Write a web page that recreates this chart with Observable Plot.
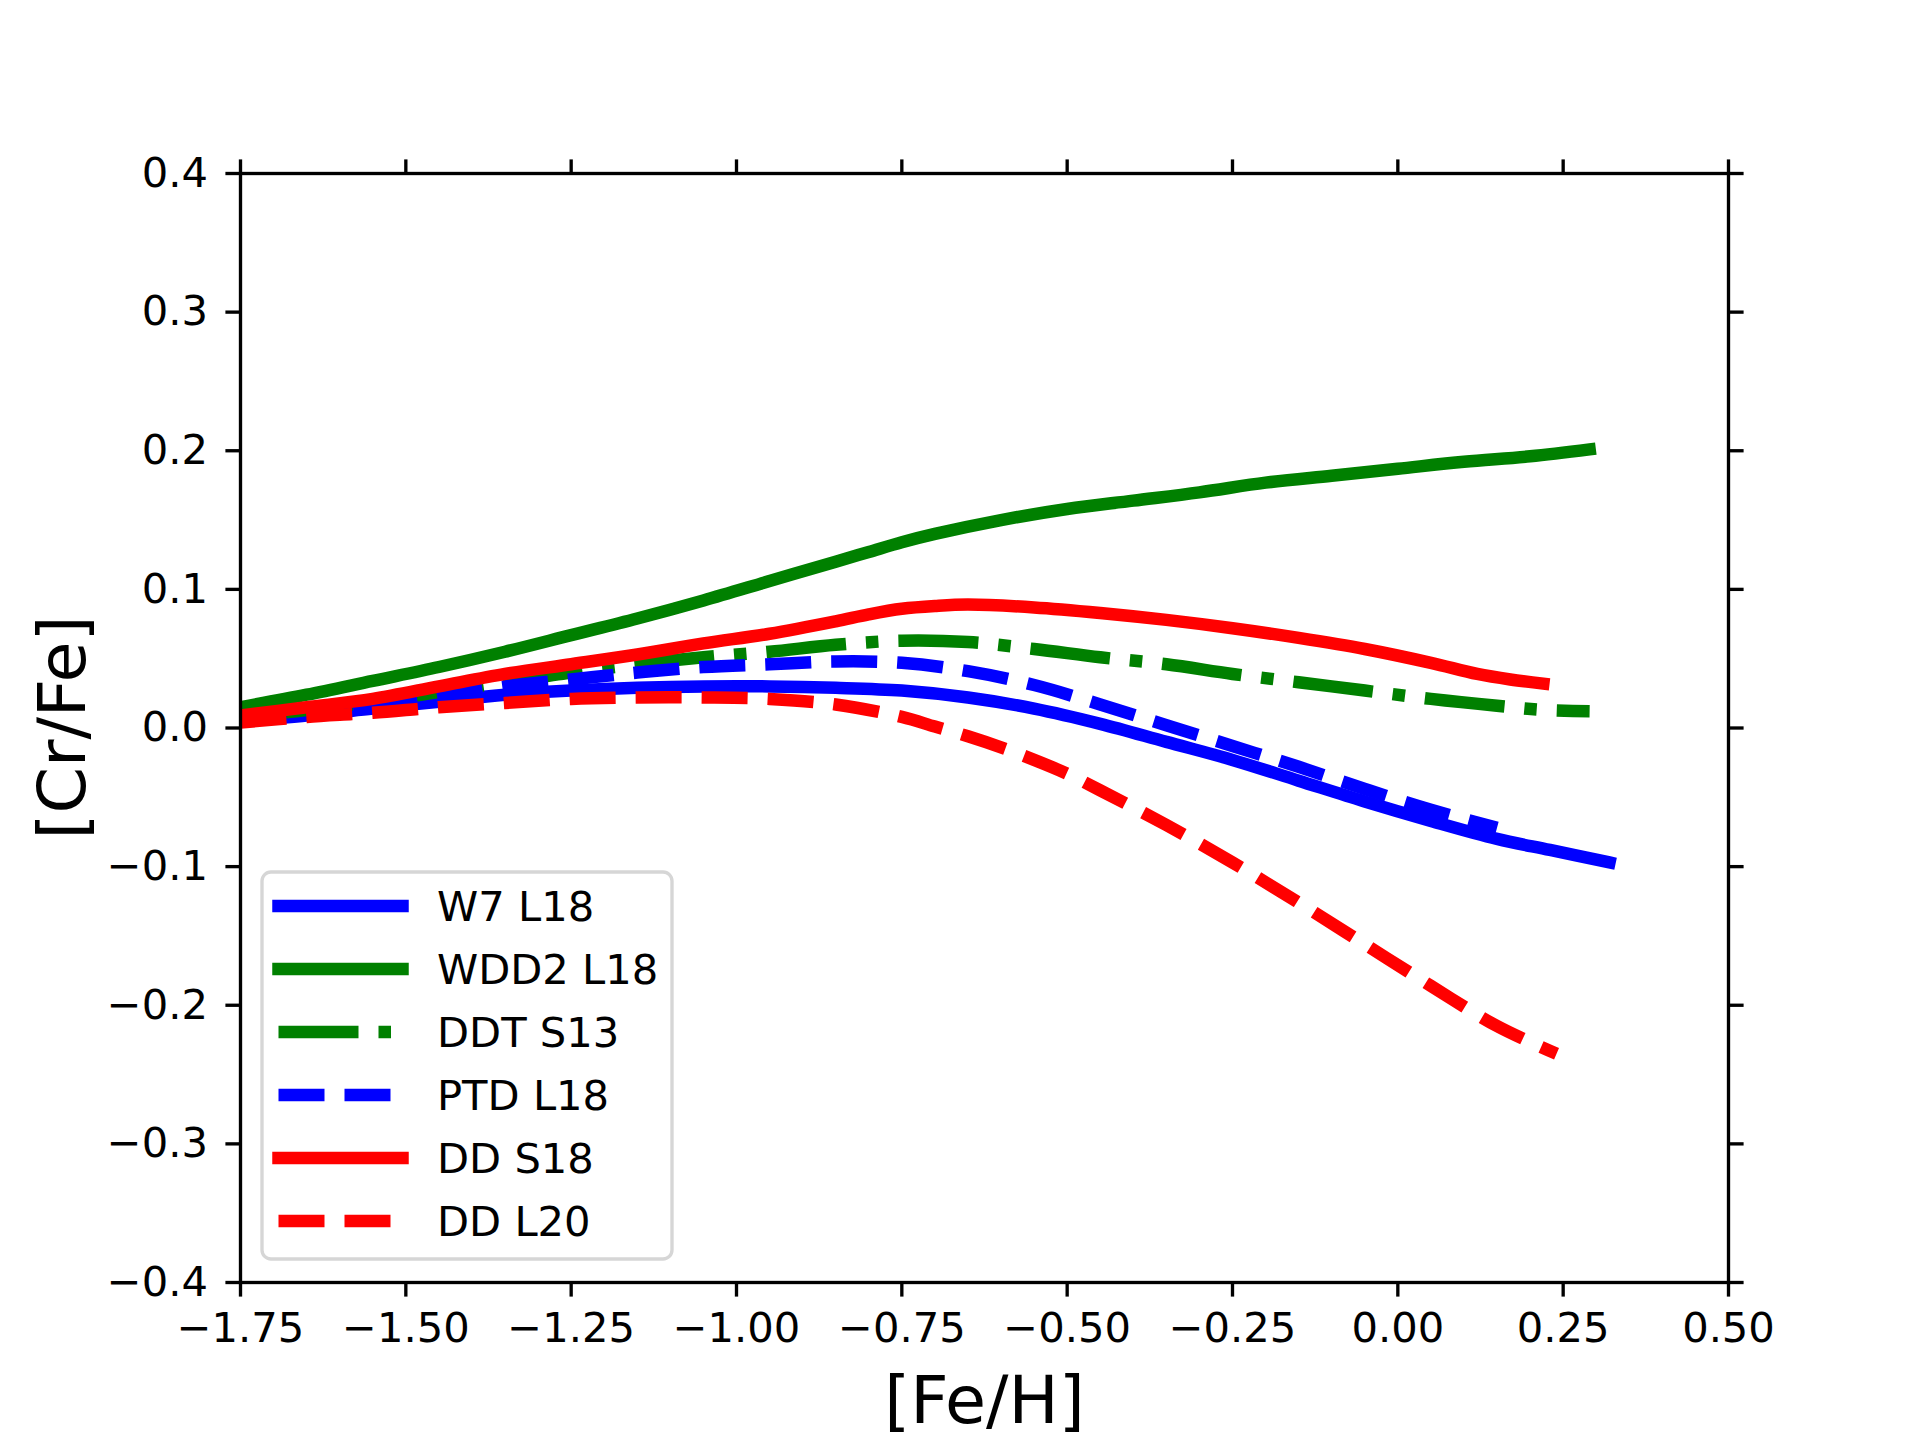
<!DOCTYPE html>
<html><head><meta charset="utf-8">
<script src="https://cdn.jsdelivr.net/npm/d3@7"></script>
<script src="https://cdn.jsdelivr.net/npm/@observablehq/plot@0.6"></script>
<style>html,body{margin:0;padding:0;background:#fff;} #chart{width:1920px;height:1440px;}</style>
</head><body><div id="chart"></div>
<script>
// ---- data ----
const xTicks = [-1.75, -1.5, -1.25, -1.0, -0.75, -0.5, -0.25, 0.0, 0.25, 0.5];
const yTicks = [-0.4, -0.3, -0.2, -0.1, 0.0, 0.1, 0.2, 0.3, 0.4];
const seriesNames = ["W7 L18", "WDD2 L18", "DDT S13", "PTD L18", "DD S18", "DD L20"];

const w7L18_feh  = [-1.75,-1.65,-1.55,-1.45,-1.35,-1.25,-1.15,-1.05,-0.95,-0.85,-0.75,-0.65,-0.55,-0.45,-0.35,-0.25,-0.15,-0.05,0.05,0.15,0.23,0.32];
const w7L18_crfe = [0.005,0.009,0.014,0.019,0.024,0.027,0.029,0.030,0.030,0.029,0.027,0.022,0.014,0.003,-0.010,-0.023,-0.038,-0.053,-0.067,-0.080,-0.088,-0.097];

const wdd2L18_feh  = [-1.75,-1.65,-1.55,-1.45,-1.35,-1.25,-1.15,-1.05,-0.95,-0.85,-0.80,-0.75,-0.70,-0.60,-0.50,-0.40,-0.30,-0.20,-0.10,0.00,0.10,0.20,0.29];
const wdd2L18_crfe = [0.015,0.024,0.034,0.044,0.055,0.067,0.079,0.092,0.106,0.120,0.127,0.134,0.140,0.150,0.158,0.164,0.170,0.177,0.182,0.187,0.192,0.196,0.201];

const ddtS13_feh  = [-1.75,-1.65,-1.55,-1.45,-1.35,-1.25,-1.15,-1.05,-0.95,-0.85,-0.75,-0.65,-0.55,-0.45,-0.35,-0.25,-0.15,-0.05,0.05,0.15,0.22,0.29];
const ddtS13_crfe = [0.008,0.013,0.019,0.026,0.033,0.040,0.046,0.051,0.055,0.060,0.063,0.062,0.057,0.051,0.046,0.039,0.033,0.027,0.021,0.016,0.013,0.012];

const ptdL18_feh  = [-1.75,-1.65,-1.55,-1.45,-1.35,-1.25,-1.15,-1.05,-0.95,-0.85,-0.75,-0.65,-0.55,-0.45,-0.35,-0.25,-0.15,-0.05,0.05,0.15];
const ptdL18_crfe = [0.006,0.010,0.015,0.022,0.030,0.035,0.040,0.044,0.046,0.048,0.047,0.041,0.031,0.017,0.002,-0.013,-0.028,-0.044,-0.059,-0.072];

const ddS18_feh  = [-1.75,-1.65,-1.55,-1.45,-1.35,-1.25,-1.15,-1.05,-0.95,-0.85,-0.80,-0.75,-0.70,-0.65,-0.55,-0.45,-0.35,-0.25,-0.15,-0.05,0.05,0.12,0.17,0.22];
const ddS18_crfe = [0.009,0.015,0.021,0.030,0.039,0.046,0.053,0.061,0.068,0.077,0.082,0.086,0.088,0.089,0.087,0.083,0.078,0.072,0.065,0.057,0.047,0.039,0.035,0.032];

const ddL20_feh  = [-1.75,-1.65,-1.55,-1.45,-1.35,-1.25,-1.15,-1.05,-0.95,-0.85,-0.75,-0.70,-0.65,-0.60,-0.55,-0.50,-0.45,-0.35,-0.25,-0.15,-0.05,0.05,0.15,0.24];
const ddL20_crfe = [0.004,0.008,0.011,0.015,0.018,0.021,0.022,0.022,0.021,0.017,0.008,0.001,-0.006,-0.014,-0.023,-0.033,-0.045,-0.070,-0.097,-0.126,-0.156,-0.186,-0.215,-0.235];

// ---- styles ----
const styles = {
  "W7 L18":   {color: "#0000ff", dash: null},
  "WDD2 L18": {color: "#008000", dash: null},
  "DDT S13":  {color: "#008000", dash: "80,20,12.5,20"},
  "PTD L18":  {color: "#0000ff", dash: "46,20"},
  "DD S18":   {color: "#ff0000", dash: null},
  "DD L20":   {color: "#ff0000", dash: "46,20"}
};

const seriesData = {
  "W7 L18": [w7L18_feh, w7L18_crfe],
  "WDD2 L18": [wdd2L18_feh, wdd2L18_crfe],
  "DDT S13": [ddtS13_feh, ddtS13_crfe],
  "PTD L18": [ptdL18_feh, ptdL18_crfe],
  "DD S18": [ddS18_feh, ddS18_crfe],
  "DD L20": [ddL20_feh, ddL20_crfe]
};

const W = 1920, H = 1440;
const mL = 240, mR = 192, mT = 173, mB = 158;
const LW = 12.5, SW = 3.33, TS = 14.6;
const font = "DejaVu Sans";
const fmtX = d => (d < 0 ? "\u2212" : "") + Math.abs(d).toFixed(2);
const fmtY = d => (d < 0 ? "\u2212" : "") + Math.abs(d).toFixed(1);

const lineMarks = seriesNames.map(name => {
  const [xs, ys] = seriesData[name];
  const rows = xs.map((x, i) => ({x, y: ys[i]}));
  const st = styles[name];
  return Plot.line(rows, {
    x: "x", y: "y", stroke: st.color, strokeWidth: LW,
    strokeDasharray: st.dash || undefined,
    strokeLinecap: st.dash ? "butt" : "square",
    strokeLinejoin: "round",
    curve: "catmull-rom", clip: true
  });
});

const chart = Plot.plot({
  width: W, height: H,
  marginLeft: mL, marginRight: mR, marginTop: mT, marginBottom: mB,
  style: {fontFamily: font, fontSize: "41.67px", background: "white", color: "black"},
  x: {domain: [-1.75, 0.5]},
  y: {domain: [-0.4, 0.4]},
  marks: [
    ...lineMarks,
    Plot.frame({stroke: "black", strokeWidth: SW}),
    Plot.axisX({anchor: "bottom", ticks: xTicks, tickFormat: fmtX, tickSize: TS, tickPadding: 15, strokeWidth: SW, fontSize: 41.67, label: null}),
    Plot.axisX({anchor: "top", ticks: xTicks, tickFormat: () => "", tickSize: TS, strokeWidth: SW, label: null}),
    Plot.axisY({anchor: "left", ticks: yTicks, tickFormat: fmtY, tickSize: TS, tickPadding: 18, strokeWidth: SW, fontSize: 41.67, label: null}),
    Plot.axisY({anchor: "right", ticks: yTicks, tickFormat: () => "", tickSize: TS, strokeWidth: SW, label: null}),
    Plot.text(["[Fe/H]"], {frameAnchor: "bottom", text: d => d, fontSize: 66.7, lineAnchor: "bottom", dy: 140, fill: "black"})
  ]
});

document.getElementById("chart").appendChild(chart);

const svg = d3.select(chart);

// ---- y-axis label ----
svg.append("text")
  .attr("transform", `translate(85,${(mT + (H - mB)) / 2}) rotate(-90)`)
  .attr("text-anchor", "middle")
  .attr("font-family", font).attr("font-size", "66.7px")
  .attr("fill", "black")
  .text("[Cr/Fe]");

// ---- legend ----
const lg = svg.append("g").attr("font-family", font).attr("font-size", "41.67px").attr("text-anchor", "start");
lg.append("rect")
  .attr("x", 262).attr("y", 872).attr("width", 410).attr("height", 387)
  .attr("rx", 9).attr("ry", 9)
  .attr("fill", "white").attr("fill-opacity", 0.8)
  .attr("stroke", "#d6d6d6").attr("stroke-width", 3.33);
seriesNames.forEach((name, i) => {
  const cy = 906 + i * 63;
  const st = styles[name];
  lg.append("line")
    .attr("x1", 278.5).attr("x2", 402.5).attr("y1", cy).attr("y2", cy)
    .attr("stroke", st.color).attr("stroke-width", LW)
    .attr("stroke-dasharray", st.dash || null)
    .attr("stroke-linecap", st.dash ? "butt" : "square");
  lg.append("text")
    .attr("x", 437).attr("y", cy + 14.5)
    .attr("text-anchor", "start")
    .attr("fill", "black")
    .text(name);
});
</script>
</body></html>
